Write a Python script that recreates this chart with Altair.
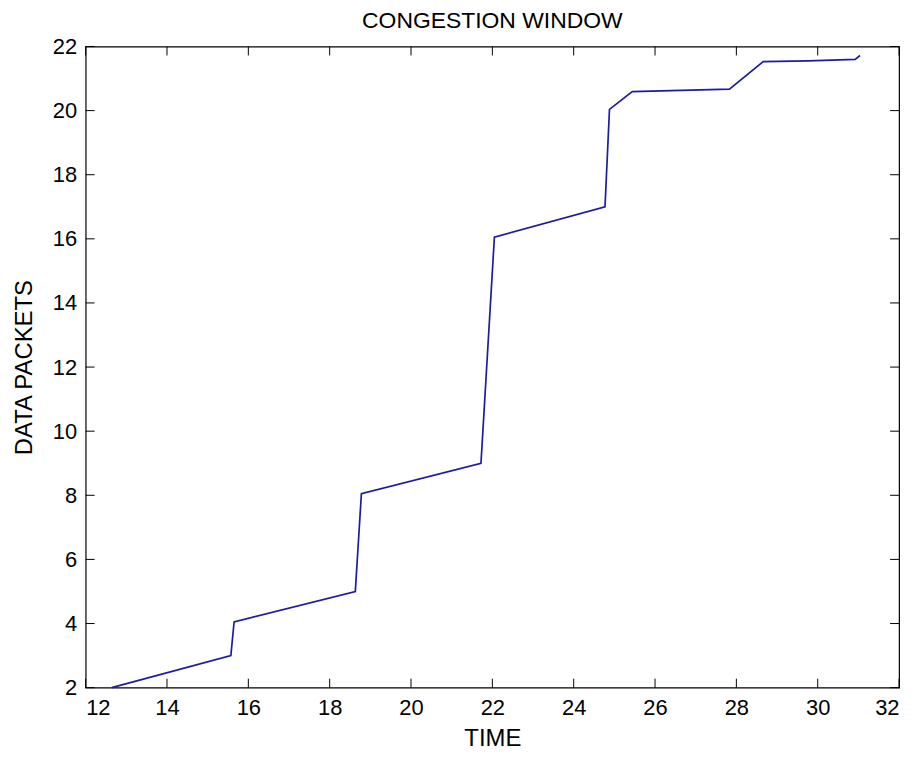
import altair as alt
import pandas as pd

# data
time_vals = [12.64, 15.57, 15.65, 18.63, 18.78, 21.72, 22.05, 24.77, 24.88, 25.44, 27.83, 28.66, 29.76, 30.92, 31.04]
packets = [2.0, 3.0, 4.05, 5.0, 8.05, 9.0, 16.05, 17.0, 20.04, 20.59, 20.67, 21.53, 21.55, 21.6, 21.72]
x_ticks = [12, 14, 16, 18, 20, 22, 24, 26, 28, 30, 32]
y_ticks = [2, 4, 6, 8, 10, 12, 14, 16, 18, 20, 22]

W, H = 817, 644
TL = 9
FONT = "Liberation Sans"

df = pd.DataFrame({"t": time_vals, "p": packets})
xt = pd.DataFrame({"v": x_ticks})
yt = pd.DataFrame({"v": y_ticks})

xscale = alt.Scale(domain=[12, 32], nice=False, zero=False)
yscale = alt.Scale(domain=[2, 22], nice=False, zero=False)

xaxis = alt.Axis(values=x_ticks, title="TIME", grid=False, domain=False, ticks=False,
                 labelPadding=10, titlePadding=8, format="d",
                 labelFontSize=22, titleFontSize=24, labelFont=FONT, titleFont=FONT,
                 labelColor="black", titleColor="black", titleFontWeight="normal")
yaxis = alt.Axis(values=y_ticks, title="DATA PACKETS", grid=False, domain=False, ticks=False,
                 labelPadding=9, titlePadding=16, format="d",
                 labelFontSize=22, titleFontSize=24, labelFont=FONT, titleFont=FONT,
                 labelColor="black", titleColor="black", titleFontWeight="normal")

line = alt.Chart(df).mark_line(color="#1c1ca0", strokeWidth=1.7).encode(
    x=alt.X("t:Q", scale=xscale, axis=xaxis),
    y=alt.Y("p:Q", scale=yscale, axis=yaxis),
    order=alt.Order("t:Q"),
)

# inward tick marks on all four sides
xb = alt.Chart(xt).mark_rule(color="black", strokeWidth=1).encode(
    x=alt.X("v:Q", scale=xscale), y=alt.value(H), y2=alt.value(H - TL))
xtop = alt.Chart(xt).mark_rule(color="black", strokeWidth=1).encode(
    x=alt.X("v:Q", scale=xscale), y=alt.value(0), y2=alt.value(TL))
yl = alt.Chart(yt).mark_rule(color="black", strokeWidth=1).encode(
    y=alt.Y("v:Q", scale=yscale), x=alt.value(0), x2=alt.value(TL))
yr = alt.Chart(yt).mark_rule(color="black", strokeWidth=1).encode(
    y=alt.Y("v:Q", scale=yscale), x=alt.value(W), x2=alt.value(W - TL))

chart = alt.layer(xb, xtop, yl, yr, line).properties(
    width=W, height=H,
    background="white",
    title=alt.TitleParams("CONGESTION WINDOW", fontSize=23, font=FONT, fontWeight="normal",
                          color="black", offset=3, anchor="middle"),
    autosize=alt.AutoSizeParams(type="none"),
    padding={"left": 78, "top": 37, "right": 12, "bottom": 68},
).configure_view(stroke="black", strokeWidth=1.2)

chart.save("out.html", embed_options={"renderer": "svg", "actions": False})
